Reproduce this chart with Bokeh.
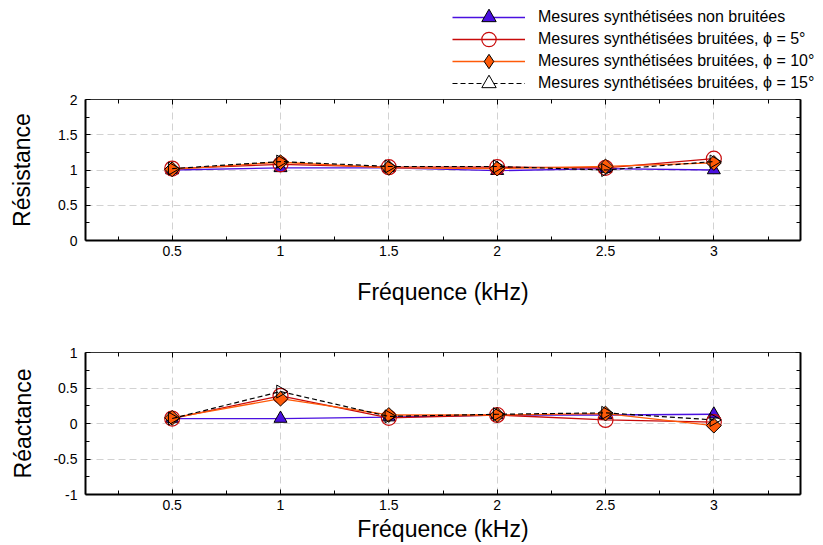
import numpy as np
from bokeh.plotting import figure
from bokeh.models import (LinearAxis, FixedTicker, CustomJSTickFormatter, Legend, LegendItem, Range1d)
from bokeh.layouts import column
from bokeh.embed import file_html
from bokeh.resources import INLINE

freq = [0.5, 1.0, 1.5, 2.0, 2.5, 3.0]

res_clean = [1.00, 1.03, 1.03, 0.99, 1.02, 1.00]
res_5 = [1.02, 1.08, 1.04, 1.04, 1.03, 1.16]
res_10 = [1.01, 1.11, 1.03, 1.02, 1.05, 1.10]
res_15 = [1.02, 1.12, 1.05, 1.05, 1.00, 1.12]

rea_clean = [0.07, 0.07, 0.09, 0.12, 0.12, 0.13]
rea_5 = [0.07, 0.39, 0.08, 0.12, 0.05, 0.02]
rea_10 = [0.08, 0.35, 0.12, 0.12, 0.14, -0.03]
rea_15 = [0.07, 0.45, 0.10, 0.13, 0.15, 0.05]

x_major = [0.5, 1.0, 1.5, 2.0, 2.5, 3.0]
x_minor = [0.25, 0.75, 1.25, 1.75, 2.25, 2.75, 3.25]
res_major = [0, 0.5, 1, 1.5, 2]
res_minor = [0.25, 0.75, 1.25, 1.75]
rea_major = [-1, -0.5, 0, 0.5, 1]
rea_minor = [-0.75, -0.25, 0.25, 0.75]

labels = ["Mesures synthétisées non bruitées",
          "Mesures synthétisées bruitées, \u03d5 = 5\u00b0",
          "Mesures synthétisées bruitées, \u03d5 = 10\u00b0",
          "Mesures synthétisées bruitées, \u03d5 = 15\u00b0"]

FONT = "Liberation Sans"
BLUE = "#4a10e0"
RED = "#c80a0a"
ORANGE = "#ff5a08"

fmt = CustomJSTickFormatter(code="return String(Math.round(tick*100)/100)")
blank = CustomJSTickFormatter(code="return ''")


def style_axis(ax, thick):
    ax.axis_line_width = thick
    ax.axis_line_color = "black"
    ax.major_tick_in = 5
    ax.major_tick_out = 0
    ax.minor_tick_in = 4
    ax.minor_tick_out = 0
    ax.major_tick_line_color = "black"
    ax.minor_tick_line_color = "black"
    ax.major_label_text_font = FONT
    ax.major_label_text_font_size = "14px"
    ax.major_label_text_color = "black"
    ax.axis_label_text_font = FONT
    ax.axis_label_text_font_size = "23px"
    ax.axis_label_text_font_style = "normal"
    ax.axis_label_text_color = "black"


def draw_series(p, ys, for_legend=False):
    clean, s5, s10, s15 = ys
    rs = []
    l1 = p.line(freq, clean, line_color=BLUE, line_width=1.3)
    m1 = p.scatter(freq, clean, marker="triangle", size=13, fill_color=BLUE, line_color="black", line_width=1)
    rs.append([l1, m1])
    l2 = p.line(freq, s5, line_color=RED, line_width=1.3)
    m2 = p.scatter(freq, s5, marker="circle", size=15, fill_color=None, line_color=RED, line_width=1.2)
    rs.append([l2, m2])
    l3 = p.line(freq, s10, line_color=ORANGE, line_width=1.3)
    if for_legend:
        m3 = p.scatter(freq, s10, marker="diamond", size=15, fill_color=ORANGE,
                       line_color="black", line_width=1)
    else:
        m3 = p.scatter(freq, s10, marker="square", angle=np.pi / 4, size=10.5, fill_color=ORANGE,
                       line_color="black", line_width=1)
    rs.append([l3, m3])
    l4 = p.line(freq, s15, line_color="black", line_width=1.2, line_dash="5 3")
    m4 = p.scatter(freq, s15, marker="triangle", angle=-np.pi / 2, size=13,
                   fill_color="white" if for_legend else None,
                   line_color="black", line_width=1)
    rs.append([l4, m4])
    return rs


def make_fig(ylo, yhi, ymaj, ymin, ylabel, h, btop, bbot, xl_standoff, yl_standoff, ys):
    p = figure(width=823, height=h, output_backend="svg", toolbar_location=None,
               x_range=Range1d(0.1, 3.4), y_range=Range1d(ylo, yhi),
               min_border_left=85, min_border_right=23, min_border_top=btop,
               min_border_bottom=bbot, x_axis_label="Fréquence (kHz)", y_axis_label=ylabel)
    p.outline_line_color = None
    p.background_fill_color = "white"
    xt = FixedTicker(ticks=x_major, minor_ticks=x_minor)
    yt = FixedTicker(ticks=ymaj, minor_ticks=ymin)
    p.xaxis.ticker = xt
    p.yaxis.ticker = yt
    p.xaxis.formatter = fmt
    p.yaxis.formatter = fmt
    style_axis(p.xaxis[0], 2)
    style_axis(p.yaxis[0], 2)
    p.xaxis.major_label_standoff = 5
    p.yaxis.major_label_standoff = 8
    p.xaxis.axis_label_standoff = xl_standoff
    p.yaxis.axis_label_standoff = yl_standoff
    top = LinearAxis(ticker=xt, formatter=blank)
    style_axis(top, 1.2)
    top.axis_line_color = "#333333"
    top.major_label_standoff = 0
    right = LinearAxis(ticker=yt, formatter=blank)
    style_axis(right, 2)
    right.major_label_standoff = 0
    p.add_layout(top, "above")
    p.add_layout(right, "right")
    for g in (p.xgrid[0], p.ygrid[0]):
        g.grid_line_color = "#d2d2d2"
        g.grid_line_dash = "7 4"
        g.grid_line_width = 1
    p.xgrid[0].ticker = xt
    p.ygrid[0].ticker = yt
    draw_series(p, ys)
    return p


# legend strip (series drawn off-view; only the legend shows)
LEG_H = 92
pl = figure(width=823, height=LEG_H, output_backend="svg", toolbar_location=None,
            x_range=Range1d(0, 1), y_range=Range1d(100, 101), min_border=0,
            x_axis_location=None, y_axis_location=None)
pl.frame_align = False
pl.outline_line_color = None
pl.xgrid.visible = False
pl.ygrid.visible = False
rsl = draw_series(pl, (res_clean, res_5, res_10, res_15), for_legend=True)
item_centres = [17, 39, 61, 83]
for i in range(4):
    leg = Legend(items=[LegendItem(label=labels[i], renderers=rsl[i])],
                 location=(452, LEG_H - item_centres[i] - 18),
                 glyph_width=73, glyph_height=36, label_height=36,
                 spacing=0, padding=0, margin=0, label_standoff=13,
                 label_text_font=FONT, label_text_font_size="16px",
                 label_text_color="black",
                 background_fill_alpha=0.0, border_line_color=None)
    pl.add_layout(leg)

p1 = make_fig(0, 2, res_major, res_minor, "Résistance", 320 - LEG_H, 99 - LEG_H, 80, 20, 20,
              (res_clean, res_5, res_10, res_15))
p2 = make_fig(-1, 1, rea_major, rea_minor, "Réactance", 225, 32, 51, 3, 14,
              (rea_clean, rea_5, rea_10, rea_15))

layout = column(pl, p1, p2, spacing=0)
open("out.html", "w").write(file_html(layout, INLINE))
